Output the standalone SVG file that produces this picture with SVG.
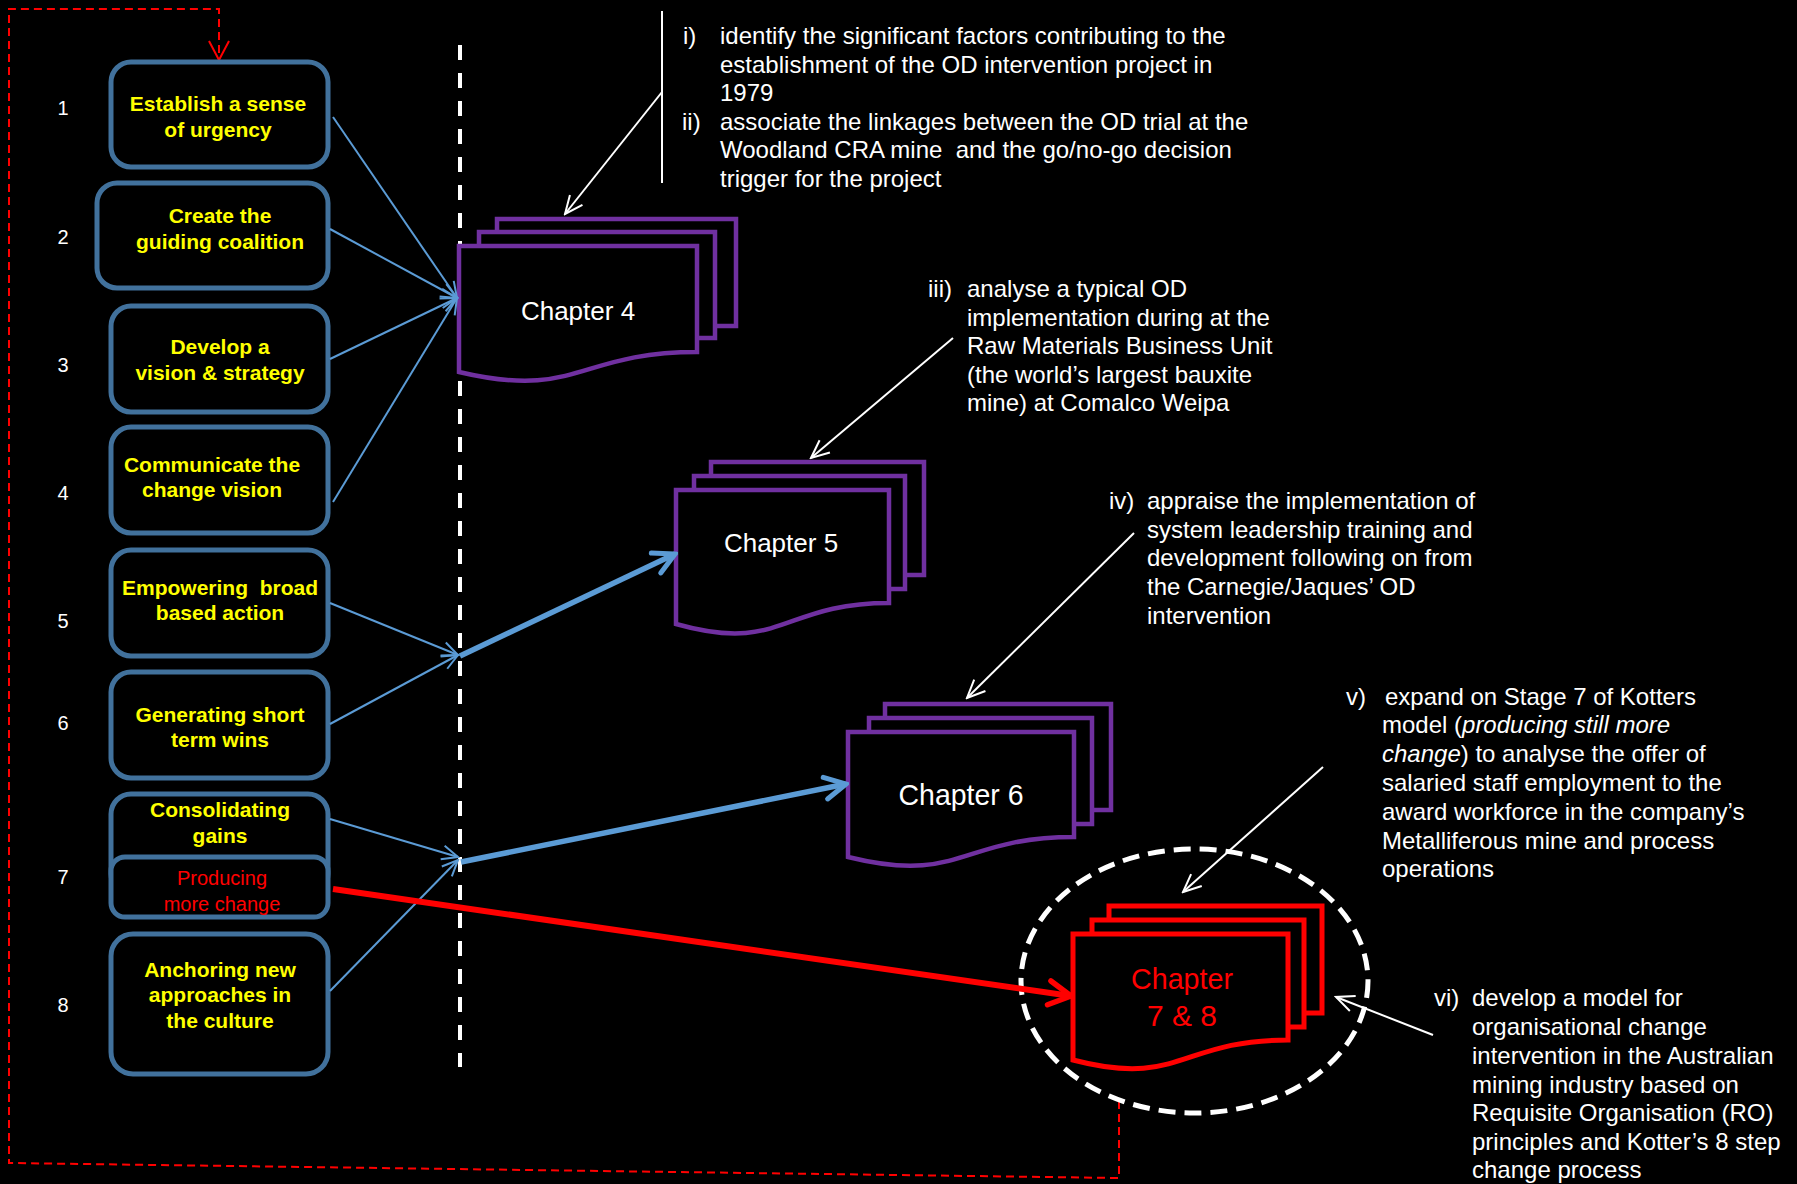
<svg xmlns="http://www.w3.org/2000/svg" width="1797" height="1184" viewBox="0 0 1797 1184">
  <style>
    .box { fill: #000; stroke: #41719C; stroke-width: 5; }
    .step { font-family: "Liberation Sans", Arial, sans-serif; font-weight: bold; font-size: 21px; fill: #FFFF00; text-anchor: middle; }
    .stepRed { font-family: "Liberation Sans", Arial, sans-serif; font-size: 20px; fill: #FF0000; text-anchor: middle; }
    .num { font-family: "Liberation Sans", Arial, sans-serif; font-size: 20px; fill: #FFFFFF; text-anchor: middle; }
    .doc { fill: #000; stroke: #7030A0; stroke-width: 4.5; stroke-linejoin: miter; }
    .docRed { fill: #000; stroke: #FF0000; stroke-width: 5; stroke-linejoin: miter; }
    .chap { font-family: "Liberation Sans", Arial, sans-serif; font-size: 26px; fill: #FFFFFF; text-anchor: middle; }
    .chapC { font-family: "Liberation Sans", Arial, sans-serif; font-size: 29px; text-anchor: middle; }
    .note { font-family: "Liberation Sans", Arial, sans-serif; font-size: 24px; fill: #FFFFFF; }
    .thin { fill: none; stroke: #5B9BD5; stroke-width: 2; }
    .thick { fill: none; stroke: #5B9BD5; stroke-width: 5.5; }
    .wline { fill: none; stroke: #FFFFFF; stroke-width: 2; }
  </style>
  <defs>
    <marker id="mBlueThin" viewBox="0 0 20 20" refX="18" refY="10" markerWidth="20" markerHeight="20" markerUnits="userSpaceOnUse" orient="auto">
      <path d="M2,3 L18,10 L2,17" fill="none" stroke="#5B9BD5" stroke-width="2"/>
    </marker>
    <marker id="mBlueThick" viewBox="0 0 30 30" refX="27" refY="15" markerWidth="30" markerHeight="30" markerUnits="userSpaceOnUse" orient="auto">
      <path d="M6,4 L27,15 L6,26" fill="none" stroke="#5B9BD5" stroke-width="5" stroke-linecap="round"/>
    </marker>
    <marker id="mRedThick" viewBox="0 0 30 30" refX="27" refY="15" markerWidth="30" markerHeight="30" markerUnits="userSpaceOnUse" orient="auto">
      <path d="M5,3 L27,15 L5,27" fill="none" stroke="#FF0000" stroke-width="5.5" stroke-linecap="round"/>
    </marker>
    <marker id="mWhite" viewBox="0 0 22 22" refX="20" refY="11" markerWidth="22" markerHeight="22" markerUnits="userSpaceOnUse" orient="auto">
      <path d="M2,3 L20,11 L2,19" fill="none" stroke="#FFFFFF" stroke-width="2"/>
    </marker>
    <marker id="mRedDash" viewBox="0 0 24 24" refX="22" refY="12" markerWidth="24" markerHeight="24" markerUnits="userSpaceOnUse" orient="auto">
      <path d="M3,2 L22,12 L3,22" fill="none" stroke="#FF0000" stroke-width="2"/>
    </marker>
  </defs>

  <rect x="0" y="0" width="1797" height="1184" fill="#000"/>

  <!-- feedback loop and divider -->
  <g id="frame">
    <path d="M1119,1101 V1178 L9,1163 V9 H219 V60" fill="none" stroke="#FF0000" stroke-width="2" stroke-dasharray="8 5" marker-end="url(#mRedDash)"/>
    <line x1="460" y1="45" x2="460" y2="1067" stroke="#FFFFFF" stroke-width="4" stroke-dasharray="15 13"/>
  </g>

  <!-- step numbers -->
  <g id="numbers" class="num">
    <text x="63" y="115">1</text>
    <text x="63" y="244">2</text>
    <text x="63" y="372">3</text>
    <text x="63" y="500">4</text>
    <text x="63" y="628">5</text>
    <text x="63" y="730">6</text>
    <text x="63" y="884">7</text>
    <text x="63" y="1012">8</text>
  </g>

  <!-- Kotter steps -->
  <g id="step1">
    <rect class="box" x="111" y="62" width="217" height="105" rx="20"/>
    <text class="step" x="218" y="111">Establish a sense</text>
    <text class="step" x="218" y="137">of urgency</text>
  </g>
  <g id="step2">
    <rect class="box" x="97" y="183" width="231" height="105" rx="20"/>
    <text class="step" x="220" y="223">Create the</text>
    <text class="step" x="220" y="249">guiding coalition</text>
  </g>
  <g id="step3">
    <rect class="box" x="111" y="306" width="217" height="106" rx="20"/>
    <text class="step" x="220" y="354">Develop a</text>
    <text class="step" x="220" y="380">vision &amp; strategy</text>
  </g>
  <g id="step4">
    <rect class="box" x="111" y="427" width="217" height="106" rx="20"/>
    <text class="step" x="212" y="472">Communicate the</text>
    <text class="step" x="212" y="497">change vision</text>
  </g>
  <g id="step5">
    <rect class="box" x="111" y="550" width="217" height="106" rx="20"/>
    <text class="step" x="220" y="595" xml:space="preserve">Empowering  broad</text>
    <text class="step" x="220" y="620">based action</text>
  </g>
  <g id="step6">
    <rect class="box" x="111" y="672" width="217" height="106" rx="20"/>
    <text class="step" x="220" y="722">Generating short</text>
    <text class="step" x="220" y="747">term wins</text>
  </g>
  <g id="step7">
    <rect class="box" x="111" y="794" width="217" height="100" rx="20"/>
    <text class="step" x="220" y="817">Consolidating</text>
    <text class="step" x="220" y="843">gains</text>
    <rect class="box" x="111" y="857" width="217" height="60" rx="14"/>
    <text class="stepRed" x="222" y="885">Producing</text>
    <text class="stepRed" x="222" y="911">more change</text>
  </g>
  <g id="step8">
    <rect class="box" x="111" y="934" width="217" height="140" rx="22"/>
    <text class="step" x="220" y="977">Anchoring new</text>
    <text class="step" x="220" y="1002">approaches in</text>
    <text class="step" x="220" y="1028">the culture</text>
  </g>

  <!-- chapters -->
  <g id="chapter4">
    <rect class="doc" x="497" y="219" width="239" height="107"/>
    <rect class="doc" x="479" y="232" width="236" height="106"/>
    <path class="doc" d="M459,246 H697 V352 C578,352 578,400 459,372 Z"/>
    <text class="chap" x="578" y="320">Chapter 4</text>
  </g>
  <g id="chapter5">
    <rect class="doc" x="711" y="462" width="213" height="113"/>
    <rect class="doc" x="694" y="476" width="211" height="113"/>
    <path class="doc" d="M676,490 H889 V603 C782,603 782,654 676,624 Z"/>
    <text class="chap" x="781" y="552">Chapter 5</text>
  </g>
  <g id="chapter6">
    <rect class="doc" x="885" y="704" width="226" height="106"/>
    <rect class="doc" x="869" y="718" width="223" height="106"/>
    <path class="doc" d="M848,732 H1074 V837 C961,837 961,885 848,857 Z"/>
    <text class="chapC" x="961" y="805" fill="#FFFFFF" textLength="125" lengthAdjust="spacingAndGlyphs">Chapter 6</text>
  </g>
  <g id="chapter7-8">
    <ellipse cx="1194.5" cy="981" rx="173.5" ry="132" fill="none" stroke="#FFFFFF" stroke-width="5" stroke-dasharray="17 9"/>
    <rect class="docRed" x="1109" y="906" width="213" height="107"/>
    <rect class="docRed" x="1092" y="920" width="212" height="107"/>
    <path class="docRed" d="M1073,934 H1288 V1040 C1180,1040 1180,1088 1073,1060 Z"/>
    <text class="chapC" x="1182" y="989" fill="#FF0000" textLength="102" lengthAdjust="spacingAndGlyphs">Chapter</text>
    <text class="chapC" x="1182" y="1026" fill="#FF0000" textLength="70" lengthAdjust="spacingAndGlyphs">7 &amp; 8</text>
  </g>

  <!-- objectives -->
  <g id="note-i-ii" class="note">
    <text x="683" y="44">i)</text>
    <text x="720" y="44">identify the significant factors contributing to the</text>
    <text x="720" y="73">establishment of the OD intervention project in</text>
    <text x="720" y="101">1979</text>
    <text x="682" y="130">ii)</text>
    <text x="720" y="130">associate the linkages between the OD trial at the</text>
    <text x="720" y="158" xml:space="preserve">Woodland CRA mine  and the go/no-go decision</text>
    <text x="720" y="187">trigger for the project</text>
  </g>
  <g id="note-iii" class="note">
    <text x="928" y="297">iii)</text>
    <text x="967" y="297">analyse a typical OD</text>
    <text x="967" y="326">implementation during at the</text>
    <text x="967" y="354">Raw Materials Business Unit</text>
    <text x="967" y="383">(the world’s largest bauxite</text>
    <text x="967" y="411">mine) at Comalco Weipa</text>
  </g>
  <g id="note-iv" class="note">
    <text x="1109" y="509">iv)</text>
    <text x="1147" y="509">appraise the implementation of</text>
    <text x="1147" y="538">system leadership training and</text>
    <text x="1147" y="566">development following on from</text>
    <text x="1147" y="595">the Carnegie/Jaques’ OD</text>
    <text x="1147" y="624">intervention</text>
  </g>
  <g id="note-v" class="note">
    <text x="1346" y="705">v)</text>
    <text x="1385" y="705">expand on Stage 7 of Kotters</text>
    <text x="1382" y="733">model (<tspan font-style="italic">producing still more</tspan></text>
    <text x="1382" y="762"><tspan font-style="italic">change</tspan>) to analyse the offer of</text>
    <text x="1382" y="791">salaried staff employment to the</text>
    <text x="1382" y="820">award workforce in the company’s</text>
    <text x="1382" y="849">Metalliferous mine and process</text>
    <text x="1382" y="877">operations</text>
  </g>
  <g id="note-vi" class="note">
    <text x="1434" y="1006">vi)</text>
    <text x="1472" y="1006">develop a model for</text>
    <text x="1472" y="1035">organisational change</text>
    <text x="1472" y="1064">intervention in the Australian</text>
    <text x="1472" y="1093">mining industry based on</text>
    <text x="1472" y="1121">Requisite Organisation (RO)</text>
    <text x="1472" y="1150">principles and Kotter’s 8 step</text>
    <text x="1472" y="1178">change process</text>
  </g>

  <!-- connectors -->
  <g id="connectors">
    <line class="thin" x1="333" y1="117" x2="457" y2="298" marker-end="url(#mBlueThin)"/>
    <line class="thin" x1="330" y1="229" x2="457" y2="298" marker-end="url(#mBlueThin)"/>
    <line class="thin" x1="330" y1="359" x2="457" y2="298" marker-end="url(#mBlueThin)"/>
    <line class="thin" x1="333" y1="502" x2="457" y2="298" marker-end="url(#mBlueThin)"/>

    <line class="thin" x1="330" y1="603" x2="458" y2="655" marker-end="url(#mBlueThin)"/>
    <line class="thin" x1="330" y1="724" x2="458" y2="655" marker-end="url(#mBlueThin)"/>
    <line class="thick" x1="460" y1="656" x2="675" y2="554" marker-end="url(#mBlueThick)"/>

    <line class="thin" x1="330" y1="819" x2="458" y2="857" marker-end="url(#mBlueThin)"/>
    <line class="thin" x1="330" y1="991" x2="458" y2="860" marker-end="url(#mBlueThin)"/>
    <line class="thick" x1="461" y1="862" x2="846" y2="784" marker-end="url(#mBlueThick)"/>

    <line x1="333" y1="889" x2="1071" y2="996" fill="none" stroke="#FF0000" stroke-width="6" marker-end="url(#mRedThick)"/>

    <line class="wline" x1="662" y1="11" x2="662" y2="183"/>
    <line class="wline" x1="662" y1="92" x2="565" y2="214" marker-end="url(#mWhite)"/>
    <line class="wline" x1="953" y1="338" x2="811" y2="458" marker-end="url(#mWhite)"/>
    <line class="wline" x1="1134" y1="533" x2="967" y2="698" marker-end="url(#mWhite)"/>
    <line class="wline" x1="1323" y1="767" x2="1183" y2="892" marker-end="url(#mWhite)"/>
    <line class="wline" x1="1433" y1="1035" x2="1336" y2="997" marker-end="url(#mWhite)"/>
  </g>
</svg>
